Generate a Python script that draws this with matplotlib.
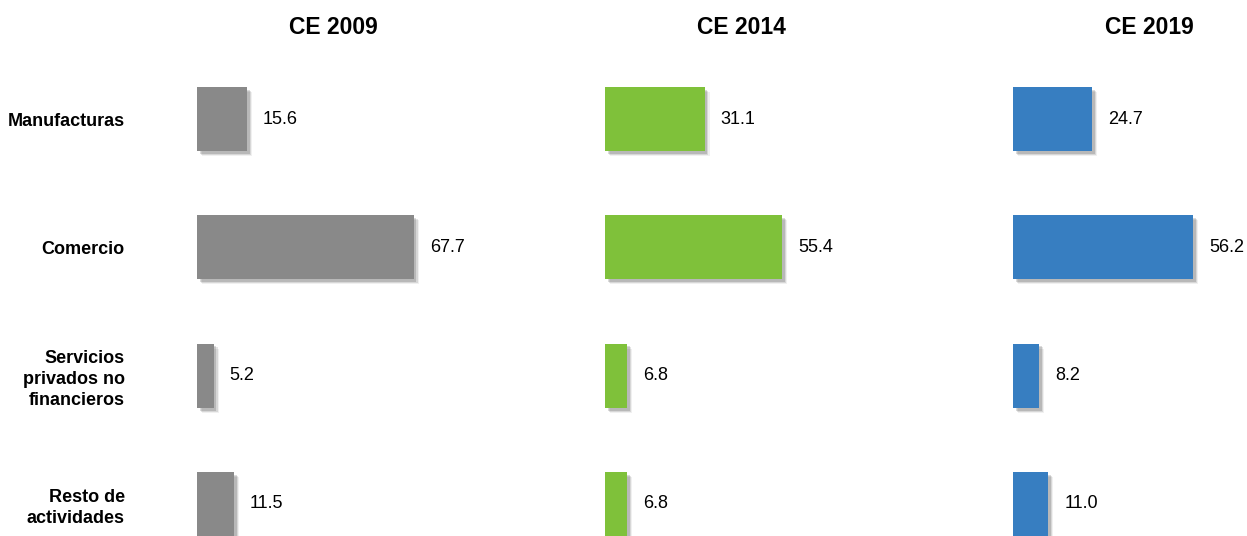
import matplotlib
matplotlib.use('Agg')
import matplotlib.pyplot as plt
import matplotlib.patheffects as pe

plt.rcParams['font.family'] = ['Liberation Sans', 'DejaVu Sans']

categories = ["Manufacturas", "Comercio", "Servicios\nprivados no\nfinancieros", "Resto de\nactividades"]
years = ["CE 2009", "CE 2014", "CE 2019"]
ce2009 = [15.6, 67.7, 5.2, 11.5]
ce2014 = [31.1, 55.4, 6.8, 6.8]
ce2019 = [24.7, 56.2, 8.2, 11.0]
series = [ce2009, ce2014, ce2019]
colors = ["#898989", "#7fc13a", "#377ec1"]

W, H = 1247, 536
fig = plt.figure(figsize=(W / 100, H / 100), dpi=100)

shadow = [pe.SimplePatchShadow(offset=(3.6, -3.6), shadow_rgbFace='k', alpha=0.06),
          pe.SimplePatchShadow(offset=(2.8, -2.8), shadow_rgbFace='k', alpha=0.10),
          pe.SimplePatchShadow(offset=(2.0, -2.0), shadow_rgbFace='k', alpha=0.14),
          pe.Normal()]

lefts = [197, 605, 1013]
ypos = list(range(len(categories)))
for i in range(3):
    ax = fig.add_axes([lefts[i] / W, 0, 272 / W, (H - 55) / H])
    bars = ax.barh(ypos, series[i], height=0.5, color=colors[i])
    for b in bars:
        b.set_path_effects(shadow)
    for y, v in zip(ypos, series[i]):
        ax.annotate("%.1f" % v, (v, y), xytext=(16, 0), textcoords='offset pixels',
                    va='center', ha='left', fontsize=13)
    ax.set_xlim(0, 85)
    ax.set_ylim(3.25, -0.5)
    for s in ax.spines.values():
        s.set_visible(False)
    ax.set_xticks([])
    if i == 0:
        ax.set_yticks(ypos)
        ax.set_yticklabels(categories, fontsize=13, fontweight='bold', ha='right',
                           multialignment='right', linespacing=1.3)
        ax.tick_params(axis='y', length=0, pad=52)
    else:
        ax.set_yticks([])
    fig.text((lefts[i] + 136) / W, 1 - 27 / H, years[i], ha='center', va='center',
             fontsize=16.5, fontweight='bold')

fig.savefig("out.png", dpi=100)
